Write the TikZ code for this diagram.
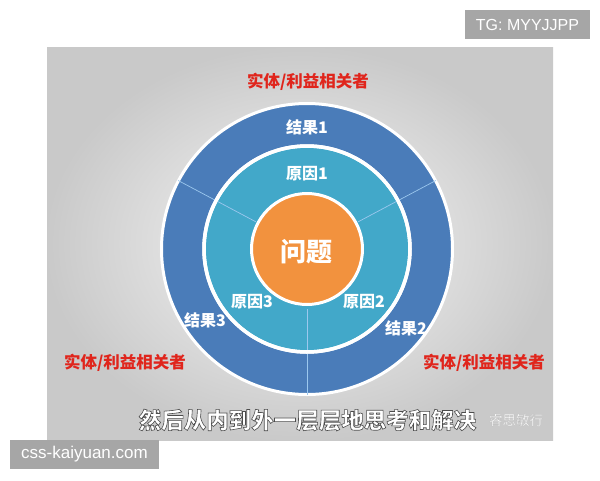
\documentclass[tikz,border=0pt]{standalone}
\usepackage{fontspec}
\setmainfont{Noto Sans CJK SC}
\newfontfamily\latinfont{Liberation Sans}
\usetikzlibrary{calc}
\definecolor{outerblue}{HTML}{4A7CB9}
\definecolor{midcyan}{HTML}{42A8C9}
\definecolor{coreorange}{HTML}{F2923E}
\definecolor{redlabel}{HTML}{E0251C}
\definecolor{tagbg}{HTML}{A6A6A6}
\definecolor{spoke}{HTML}{9CC8EE}
\newcommand\strokedtext[3]{\special{pdf:literal direct 2 Tr #1 w #2 G}#3\special{pdf:literal direct 0 Tr}}
\tikzset{
  ring/.style={circle, draw=white, inner sep=0pt, outer sep=0pt},
  ringlabel/.style={text=white, font=\fontsize{16}{16}\selectfont\bfseries, inner sep=0pt},
  stake/.style={text=redlabel, font=\fontsize{16.5}{16.5}\selectfont\bfseries, inner sep=0pt},
  spokeline/.style={draw=spoke, line width=0.7pt},
  tagbox/.style={fill=tagbg, text=white, inner sep=0pt, minimum height=29.5pt, font=\latinfont},
  subtitle/.style={font=\fontsize{22.5}{22.5}\selectfont\bfseries, inner sep=0pt},
  wm/.style={font=\fontsize{13.5}{13.5}\selectfont, inner sep=0pt}
}
\begin{document}
\begin{tikzpicture}[x=1pt,y=-1pt]
\useasboundingbox (0,0) rectangle (600,480);
\fill[white] (0,0) rectangle (600,480);
% panel background
\shade[inner color=black!3, outer color=black!21] (47,47) rectangle (553,440);
\coordinate (c) at (307,249);
% rings
\node[ring, fill=outerblue, line width=3pt, minimum size=291pt] (outer) at (c) {};
\node[ring, fill=midcyan, line width=3.5pt, minimum size=206pt] (middle) at (c) {};
% spokes
\coordinate (s1a) at ($(c)+(28:58pt)$);  \coordinate (s1b) at ($(c)+(28:146pt)$);
\coordinate (s2a) at ($(c)+(152:58pt)$); \coordinate (s2b) at ($(c)+(152:146pt)$);
\coordinate (s3a) at ($(c)+(270:60pt)$); \coordinate (s3b) at ($(c)+(270:146pt)$);
\draw[spokeline] (s1a) -- (s1b);
\draw[spokeline] (s2a) -- (s2b);
\draw[spokeline] (s3a) -- (s3b);
\node[ring, draw=white, fill=none, line width=3.5pt, minimum size=206pt] (middleborder) at (c) {};
\node[ring, fill=coreorange, line width=3pt, minimum size=111pt] (core) at (c) {};
% labels
\node[text=white, inner sep=0pt, font=\fontsize{26}{26}\selectfont\bfseries] (problem) at (306,252) {问题};
\node[ringlabel] (r1) at (307,127) {结果1};
\node[ringlabel] (c1) at (307,174) {原因1};
\node[ringlabel] (c3) at (252,302) {原因3};
\node[ringlabel] (c2) at (364,302) {原因2};
\node[ringlabel] (r3) at (205,320) {结果3};
\node[ringlabel] (r2) at (406,328) {结果2};
\node[stake] (stop) at (308,82) {实体/利益相关者};
\node[stake] (sleft) at (125,363) {实体/利益相关者};
\node[stake] (sright) at (484,363) {实体/利益相关者};
% subtitle with outline
\node[subtitle, text=white] (sub) at (307.5,420) {\strokedtext{0.6}{0.3}{然后从内到外一层层地思考和解决}};
% watermark
\node[wm, text=white] (wmark) at (516,420) {\strokedtext{0.2}{0.72}{睿思敏行}};
% tags
\node[tagbox, minimum width=125pt, font=\latinfont\fontsize{16}{16}\selectfont] (tg) at (527.5,24.5) {TG: MYYJJPP};
\node[tagbox, minimum width=149pt, font=\latinfont\fontsize{17}{17}\selectfont] (css) at (84.5,454.5) {css-kaiyuan.com};
\end{tikzpicture}
\end{document}
